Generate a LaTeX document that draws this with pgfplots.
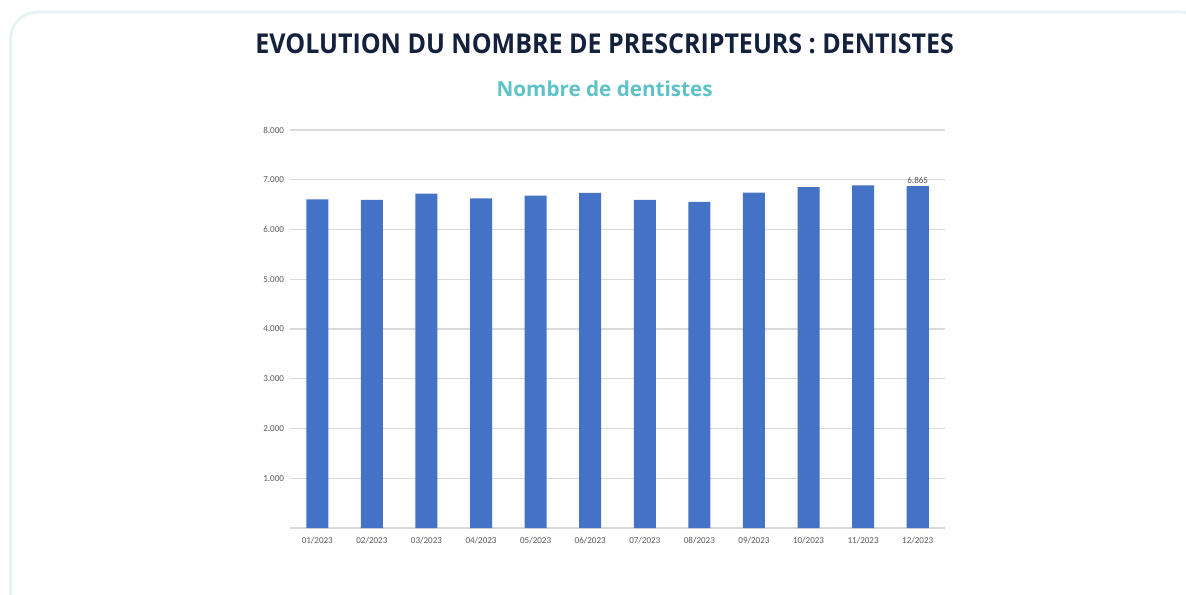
\documentclass[border=0pt]{standalone}
\usepackage{pgfplots}
\pgfplotsset{compat=1.18}
\usepackage{fontspec}
\setmainfont{Carlito}
\newfontfamily\osans{Open Sans}
\newfontfamily\osanscond[FakeStretch=0.915]{Open Sans}
\definecolor{barblue}{HTML}{4472C4}
\definecolor{navy}{HTML}{14213D}
\definecolor{teal2}{HTML}{5EC2C9}
\definecolor{ticktxt}{HTML}{595959}
\definecolor{gridc}{HTML}{D9D9D9}
\definecolor{cardedge}{HTML}{E6F2F6}

\begin{document}
\begin{tikzpicture}
% page = 1186 x 594 px, 1px = 0.75pt
\path[use as bounding box] (0,0) rectangle (889.5pt,445.5pt);
\begin{scope}
\clip (0,0) rectangle (889.5pt,445.5pt);
\draw[cardedge, line width=2pt, rounded corners=20pt, fill=white]
  (8pt,-20pt) rectangle (905pt,436.5pt);
\end{scope}

\node[font=\osanscond\bfseries\fontsize{20.5}{24}\selectfont, text=navy]
  at (453.5pt,412.5pt) {EVOLUTION DU NOMBRE DE PRESCRIPTEURS : DENTISTES};
\node[font=\osans\bfseries\fontsize{15.5}{18}\selectfont, text=teal2]
  at (453.5pt,379pt) {Nombre de dentistes};

\begin{axis}[
  at={(217.5pt,49.5pt)}, anchor=south west,
  scale only axis, width=491.25pt, height=298.5pt,
  ybar, bar width=16.5pt, bar shift=0pt,
  xmin=-0.5, xmax=11.5, ymin=0, ymax=8000,
  xtick={0,...,11},
  xticklabels={01/2023,02/2023,03/2023,04/2023,05/2023,06/2023,07/2023,08/2023,09/2023,10/2023,11/2023,12/2023},
  ytick={1000,2000,...,8000},
  ymajorgrids, grid style={gridc, line width=0.8pt},
  axis x line=bottom, axis y line=left,
  x axis line style={gridc, line width=0.8pt, -},
  y axis line style={draw=none},
  major tick length=0pt,
  tick label style={font=\fontsize{6.8}{8}\selectfont, text=ticktxt},
  yticklabel style={xshift=-1pt},
  xticklabel style={yshift=-3pt},
  /pgf/number format/.cd, fixed, 1000 sep={.}, assume math mode=true,
]
\addplot[fill=barblue, draw=none] coordinates {
  (0,6605) (1,6595) (2,6720) (3,6625) (4,6680) (5,6735)
  (6,6595) (7,6555) (8,6740) (9,6850) (10,6885) (11,6865)
};
\addplot[fill=barblue, draw=none, nodes near coords,
  nodes near coords style={font=\fontsize{6.8}{8}\selectfont, text=ticktxt, yshift=-1pt}]
  coordinates {(11,6865)};
\end{axis}
\end{tikzpicture}
\end{document}
